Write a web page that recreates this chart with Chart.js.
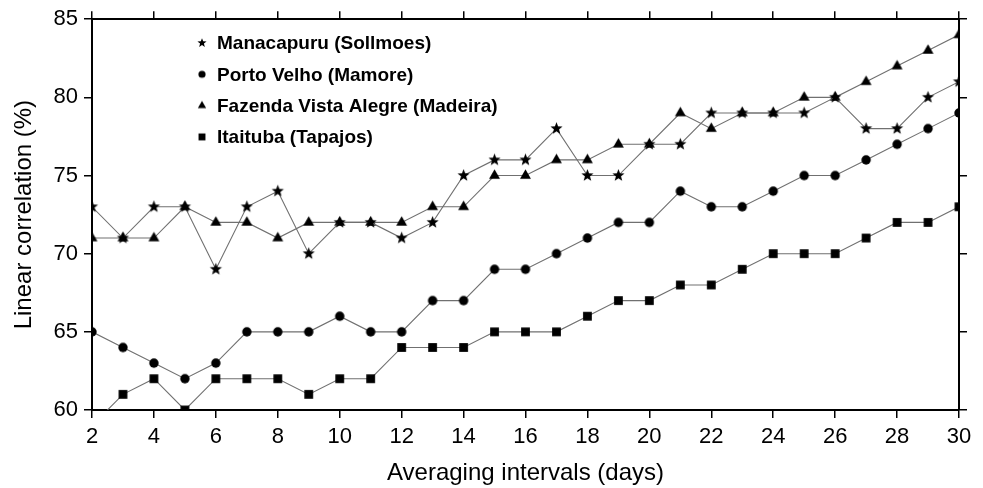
<!DOCTYPE html>
<html>
<head>
<meta charset="utf-8">
<script src="https://cdn.jsdelivr.net/npm/chart.js@4.4.1/dist/chart.umd.min.js"></script>
<style>
 html,body{margin:0;padding:0;background:#fff}
 canvas{display:block}
</style>
</head>
<body>
<canvas id="corrChart" width="983" height="488"></canvas>
<script>
const days=[2,3,4,5,6,7,8,9,10,11,12,13,14,15,16,17,18,19,20,21,22,23,24,25,26,27,28,29,30];
const manacapuru=[73,71,73,73,69,73,74,70,72,72,71,72,75,76,76,78,75,75,77,77,79,79,79,79,80,78,78,80,81];
const portoVelho=[65,64,63,62,63,65,65,65,66,65,65,67,67,69,69,70,71,72,72,74,73,73,74,75,75,76,77,78,79];
const fazenda=[71,71,71,73,72,72,71,72,72,72,72,73,73,75,75,76,76,77,77,79,78,79,79,80,80,81,82,83,84];
const itaituba=[59,61,62,60,62,62,62,61,62,62,64,64,64,65,65,65,66,67,67,68,68,69,70,70,70,71,72,72,73];
const stations=['Manacapuru (Sollmoes)','Porto Velho (Mamore)','Fazenda Vista Alegre (Madeira)','Itaituba (Tapajos)'];
const yTicks=[60,65,70,75,80,85];
const xTicks=[2,4,6,8,10,12,14,16,18,20,22,24,26,28,30];

const family='"Liberation Sans", Arial, Helvetica, sans-serif';

// small filled marker bitmaps, used as point styles and in the legend
function marker(shape,r){
 const size=Math.ceil(r*2)+2, c=document.createElement('canvas');
 c.width=c.height=size;
 const g=c.getContext('2d'), m=size/2;
 g.fillStyle='#000';
 g.beginPath();
 if(shape==='star'){
  for(let i=0;i<10;i++){
   const a=-Math.PI/2+i*Math.PI/5, rr=i%2?r*0.42:r;
   g.lineTo(m+rr*Math.cos(a),m+rr*Math.sin(a));
  }
 }else if(shape==='circle'){
  g.arc(m,m,r,0,Math.PI*2);
 }else if(shape==='triangle'){
  g.moveTo(m,m-r);
  g.lineTo(m+r*0.866,m+r*0.5);
  g.lineTo(m-r*0.866,m+r*0.5);
 }else{
  g.rect(m-r*0.72,m-r*0.72,r*1.44,r*1.44);
 }
 g.closePath();
 g.fill();
 return c;
}

const shapes=['star','circle','triangle','square'];
const pointSize={star:6.4,circle:4.7,triangle:6.3,square:6.1};
const legendSize={star:4.8,circle:3.6,triangle:4.8,square:4.8};
const series=[manacapuru,portoVelho,fazenda,itaituba];

const datasets=series.map((vals,i)=>({
 label:stations[i],
 data:days.map((d,k)=>({x:d,y:vals[k]})),
 borderColor:'#707070',
 borderWidth:1.1,
 pointStyle:marker(shapes[i],pointSize[shapes[i]]),
 legendMark:marker(shapes[i],legendSize[shapes[i]]),
 pointRadius:5,
 clip:0,
 tension:0
}));

// keep lines and markers inside the frame, edge markers get cut in half
const frameClip={
 id:'frameClip',
 beforeDatasetsDraw(chart){
  const {ctx,chartArea:a}=chart;
  ctx.save();
  ctx.beginPath();
  ctx.rect(a.left,a.top,a.right-a.left,a.bottom-a.top);
  ctx.clip();
 },
 afterDatasetsDraw(chart){chart.ctx.restore();}
};

const insideLegend={
 id:'insideLegend',
 afterDraw(chart){
  const ctx=chart.ctx;
  ctx.save();
  ctx.font='bold 19px '+family;
  ctx.textBaseline='middle';
  ctx.fillStyle='#000';
  chart.data.datasets.forEach((ds,i)=>{
   const y=43+i*31.3, img=ds.legendMark;
   ctx.drawImage(img,202-img.width/2,y-img.height/2);
   ctx.fillText(ds.label,217,y+1);
  });
  ctx.restore();
 }
};

const tickGrid={display:true,drawOnChartArea:false,drawTicks:true,tickLength:8,color:'#000',lineWidth:1.5};
const frame={display:true,color:'#000',width:2};

new Chart(document.getElementById('corrChart'),{
 type:'line',
 data:{datasets},
 plugins:[frameClip,insideLegend],
 options:{
  responsive:false,
  animation:false,
  events:[],
  layout:{padding:0},
  plugins:{legend:{display:false},tooltip:{enabled:false}},
  scales:{
   x:{
    type:'linear',position:'bottom',min:2,max:30,
    afterBuildTicks(s){s.ticks=xTicks.map(v=>({value:v}));},
    ticks:{color:'#000',font:{size:22,family},padding:6,maxRotation:0,autoSkip:false},
    grid:tickGrid,border:frame,
    title:{display:true,text:'Averaging intervals (days)',color:'#000',font:{size:24,family},padding:{top:0,bottom:0}},
    afterFit(s){s.height=78;}
   },
   x2:{
    type:'linear',position:'top',min:2,max:30,
    afterBuildTicks(s){s.ticks=xTicks.map(v=>({value:v}));},
    ticks:{display:false},grid:tickGrid,border:frame,
    afterFit(s){s.height=17;}
   },
   y:{
    type:'linear',position:'left',min:60,max:85,
    afterBuildTicks(s){s.ticks=yTicks.map(v=>({value:v}));},
    ticks:{color:'#000',font:{size:22,family},padding:6},
    grid:tickGrid,border:frame,
    title:{display:true,text:'Linear correlation (%)',color:'#000',font:{size:24,family},padding:{top:10,bottom:0}},
    afterFit(s){s.width=92;}
   },
   y2:{
    type:'linear',position:'right',min:60,max:85,
    afterBuildTicks(s){s.ticks=yTicks.map(v=>({value:v}));},
    ticks:{display:false},grid:tickGrid,border:frame,
    afterFit(s){s.width=24;}
   }
  }
 }
});
</script>
</body>
</html>
